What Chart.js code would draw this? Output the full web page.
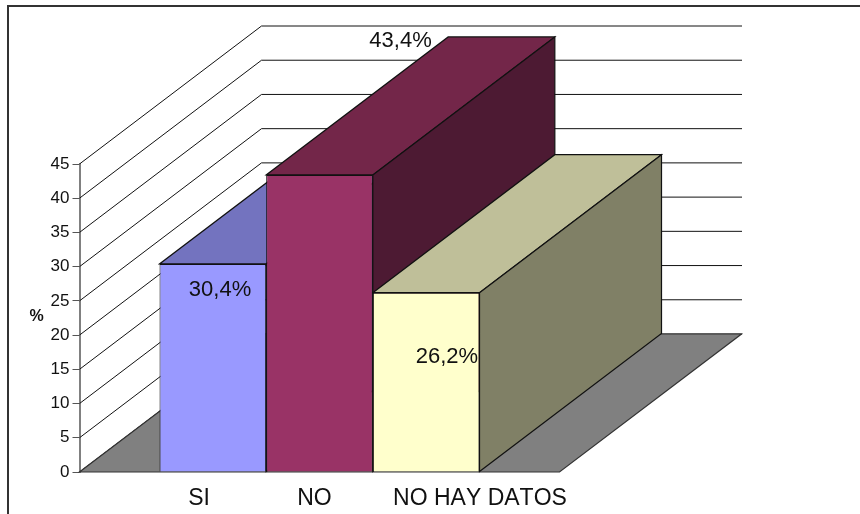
<!DOCTYPE html>
<html>
<head>
<meta charset="utf-8">
<style>
  html, body { margin: 0; padding: 0; background: #fff; overflow: hidden; }
  #frame { position: absolute; left: 7px; top: 5px; width: 870px; height: 530px; border: 2px solid #333; box-sizing: border-box; }
  #chartBox { position: absolute; left: 0; top: 0; width: 860px; height: 514px; }
</style>
<script src="https://cdn.jsdelivr.net/npm/chart.js@4/dist/chart.umd.min.js"></script>
</head>
<body>
<div id="frame"></div>
<div id="chartBox"><canvas id="canvasChart"></canvas></div>
<script>
const categories = ['SI', 'NO', 'NO HAY DATOS']
const values = [30.4, 43.4, 26.2]
const valueLabels = ['30,4%', '43,4%', '26,2%']
const yTicks = [0, 5, 10, 15, 20, 25, 30, 35, 40, 45]

const frontColors = ['#9999ff', '#993366', '#ffffcc']
const topColors = ['#7373bf', '#732649', '#bfbf99']
const sideColors = ['#4d4d80', '#4d1a33', '#808066']

const depthX = 182
const depthY = -138
const wallRight = 742
const font = 'Liberation Sans, Arial, sans-serif'

function poly(ctx, pts, fill, stroke) {
  ctx.beginPath()
  pts.forEach((p, i) => (i ? ctx.lineTo(p[0], p[1]) : ctx.moveTo(p[0], p[1])))
  ctx.closePath()
  if (fill) {
    ctx.fillStyle = fill
    ctx.fill()
  }
  if (stroke) {
    ctx.strokeStyle = stroke
    ctx.lineWidth = 1.2
    ctx.stroke()
  }
}

const wallPlugin = {
  id: 'wall',
  // back wall, floor, then the receding faces of each bar from left to right;
  // Chart.js paints the front faces on top of all this
  beforeDatasetsDraw(chart) {
    const { ctx, scales, chartArea } = chart
    const y = scales.y
    ctx.save()
    ctx.strokeStyle = '#111'
    ctx.lineWidth = 1
    yTicks.forEach((t) => {
      const py = y.getPixelForValue(t)
      ctx.beginPath()
      ctx.moveTo(chartArea.left, py)
      ctx.lineTo(chartArea.left + depthX, py + depthY)
      ctx.lineTo(wallRight, py + depthY)
      ctx.stroke()
    })
    const base = y.getPixelForValue(0)
    poly(ctx, [
      [chartArea.left, base],
      [chartArea.right, base],
      [chartArea.right + depthX, base + depthY],
      [chartArea.left + depthX, base + depthY],
    ], '#808080', '#333')
    categories.forEach((name, i) => {
      const bar = chart.getDatasetMeta(i).data[0]
      const half = bar.width / 2
      const l = bar.x - half
      const r = bar.x + half
      poly(ctx, [
        [l, bar.y],
        [r, bar.y],
        [r + depthX, bar.y + depthY],
        [l + depthX, bar.y + depthY],
      ], topColors[i], '#111')
      poly(ctx, [
        [r, bar.y],
        [r + depthX, bar.y + depthY],
        [r + depthX, bar.base + depthY],
        [r, bar.base],
      ], sideColors[i], '#111')
    })
    ctx.restore()
  },
  afterDatasetsDraw(chart) {
    const { ctx, chartArea } = chart
    ctx.save()
    ctx.fillStyle = '#111'
    ctx.textBaseline = 'middle'
    ctx.textAlign = 'center'
    ctx.font = '22px ' + font
    // value labels and category names sit a little off the bar centres
    const labelShift = [[7.2, 26], [81, -134], [20.8, 64]]
    const nameShift = [-13.8, -5, 53.8]
    categories.forEach((name, i) => {
      const bar = chart.getDatasetMeta(i).data[0]
      ctx.fillText(valueLabels[i], bar.x + labelShift[i][0], bar.y + labelShift[i][1])
    })
    ctx.font = '23px ' + font
    ctx.fontKerning = 'none'
    categories.forEach((name, i) => {
      const bar = chart.getDatasetMeta(i).data[0]
      ctx.fillText(name, bar.x + nameShift[i], chartArea.bottom + 27)
    })
    ctx.fontKerning = 'auto'
    ctx.font = 'bold 16px ' + font
    ctx.fillText('%', 36.5, 316.5)
    ctx.restore()
  },
}

new Chart(document.getElementById('canvasChart'), {
  type: 'bar',
  data: {
    labels: [''],
    datasets: categories.map((name, i) => ({
      label: name,
      data: [values[i]],
      backgroundColor: frontColors[i],
      borderColor: '#111',
      borderWidth: 1,
      categoryPercentage: 0.6667,
      barPercentage: 1,
    })),
  },
  options: {
    responsive: true,
    maintainAspectRatio: false,
    animation: false,
    layout: { padding: { left: 0, top: 164, right: 300.5, bottom: 42 } },
    plugins: { legend: { display: false }, tooltip: { enabled: false } },
    scales: {
      x: {
        grid: { display: false },
        border: { display: false },
        ticks: { display: false },
        afterFit: (axis) => {
          axis.height = 0
        },
      },
      y: {
        min: 0,
        max: 45,
        afterBuildTicks: (axis) => {
          axis.ticks = yTicks.map((value) => ({ value }))
        },
        afterFit: (axis) => {
          axis.width = 79.5
        },
        border: { color: '#808080', width: 2 },
        grid: { drawOnChartArea: false, color: '#555', tickLength: 7 },
        ticks: { color: '#111', padding: 3, font: { family: font, size: 17 } },
      },
    },
  },
  plugins: [wallPlugin],
})
</script>
</body>
</html>
